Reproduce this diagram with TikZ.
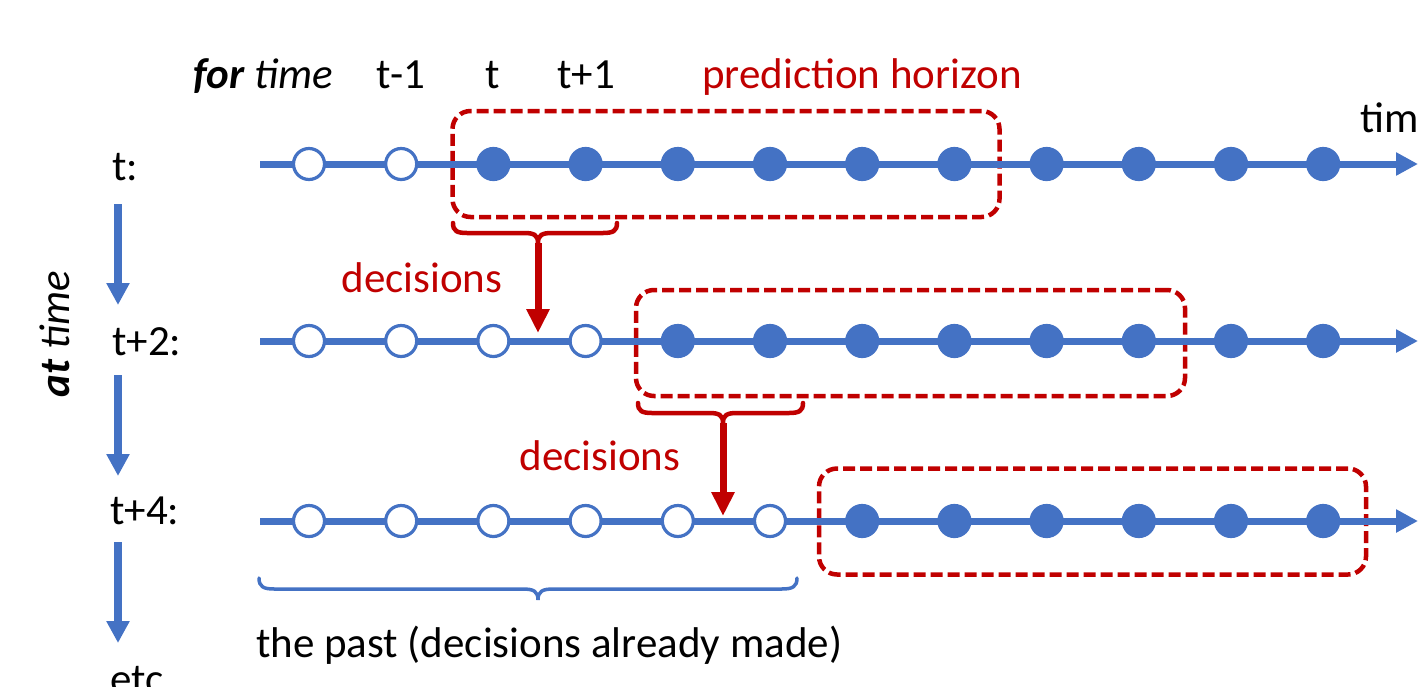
\documentclass[tikz,border=0pt]{standalone}
\usepackage{fontspec}
\setmainfont{Carlito}
\usetikzlibrary{arrows.meta}
\definecolor{axisblue}{HTML}{4472C4}
\definecolor{horizonred}{HTML}{C00000}

% curly brace opening downwards: style, left x, middle x, right x, top y, depth
\newcommand\curlybrace[6]{%
  \draw[#1] (#2,#5) .. controls (#2,#5+0.8*#6) and (#2+0.4*#6,#5+#6) .. (#2+1.4*#6,#5+#6)
    -- (#3-1.4*#6,#5+#6) .. controls (#3-0.4*#6,#5+#6) and (#3,#5+1.2*#6) .. (#3,#5+2*#6)
    .. controls (#3,#5+1.2*#6) and (#3+0.4*#6,#5+#6) .. (#3+1.4*#6,#5+#6)
    -- (#4-1.4*#6,#5+#6) .. controls (#4-0.4*#6,#5+#6) and (#4,#5+0.8*#6) .. (#4,#5);}

\begin{document}
\begin{tikzpicture}[x=1pt,y=-1pt,
  every node/.style={font=\fontsize{43pt}{52pt}\selectfont, inner sep=0pt},
  axis/.style={draw=axisblue, line width=7pt, -{Triangle[length=22pt,width=22pt]}},
  pastpt/.style={circle, draw=axisblue, fill=white, line width=3.2pt, minimum size=31pt},
  futurept/.style={circle, draw=axisblue, fill=axisblue, line width=3.2pt, minimum size=31pt},
  horizon/.style={draw=horizonred, line width=4.5pt, dash pattern=on 12pt off 5pt,
    rounded corners=18pt, rectangle, minimum height=106pt},
  redtext/.style={text=horizonred},
  steparrow/.style={draw=axisblue, line width=8pt, -{Triangle[length=22pt,width=22pt]}},
  decarrow/.style={draw=horizonred, line width=7pt, -{Triangle[length=24pt,width=22pt]}},
  redbrace/.style={draw=horizonred, line width=4.5pt, line cap=round},
  bluebrace/.style={draw=axisblue, line width=3.5pt, line cap=round}]

\useasboundingbox (0,0) rectangle (1418,686);

% header row
\node[anchor=base west] (fortime) at (193,88) {\textbf{\textit{for}} \textit{time}};
\node[anchor=base] (lbl-tm1) at (401,88) {t-1};
\node[anchor=base] (lbl-t) at (493,88) {t};
\node[anchor=base] (lbl-tp1) at (586,88) {t+1};
\node[anchor=base, redtext] (phlabel) at (862,88) {prediction horizon};
\node[anchor=base west] (timelabel) at (1360,132) {time};

% left column: decision instants
\node[anchor=base west] (at0) at (112,180) {t:};
\node[anchor=base west] (at2) at (112,355) {t+2:};
\node[anchor=base west] (at4) at (110,524) {t+4:};
\node[anchor=base west] (atetc) at (110,693) {etc};
\node[rotate=90] (attime) at (55,334) {\textbf{\textit{at}} \textit{time}};

\coordinate (s0a) at (118,204); \coordinate (s0b) at (118,305);
\coordinate (s1a) at (118,375); \coordinate (s1b) at (118,476);
\coordinate (s2a) at (118,542); \coordinate (s2b) at (118,643);
\draw[steparrow] (s0a) -- (s0b);
\draw[steparrow] (s1a) -- (s1b);
\draw[steparrow] (s2a) -- (s2b);

% prediction horizons
\node[horizon, minimum width=547pt] (h1) at (726,164) {};
\node[horizon, minimum width=549pt] (h2) at (910.5,343) {};
\node[horizon, minimum width=547pt] (h3) at (1092.5,521.5) {};

% time axes with sample points
\foreach \row/\y/\npast in {1/164/2, 2/341/4, 3/521/6} {
  \coordinate (ax\row-start) at (260,\y);
  \coordinate (ax\row-end) at (1418,\y);
  \draw[axis] (ax\row-start) -- (ax\row-end);
  \foreach \i in {0,...,11} {
    \pgfmathsetmacro\xx{309+92.2*\i}
    \ifnum\i<\npast
      \node[pastpt] (p\row-\i) at (\xx,\y) {};
    \else
      \node[futurept] (p\row-\i) at (\xx,\y) {};
    \fi
  }
}

% decisions taken from each horizon
\curlybrace{redbrace}{453}{538}{617}{223}{10}
\coordinate (d1a) at (538,243); \coordinate (d1b) at (538,333);
\draw[decarrow] (d1a) -- (d1b);
\node[anchor=base, redtext] (dec1) at (422,292) {decisions};

\curlybrace{redbrace}{638}{723}{803}{403}{10}
\coordinate (d2a) at (723,423); \coordinate (d2b) at (723,516);
\draw[decarrow] (d2a) -- (d2b);
\node[anchor=base, redtext] (dec2) at (600,470) {decisions};

% the past
\curlybrace{bluebrace}{259}{538}{797}{578}{11}
\node[anchor=base west] (past) at (256,657) {the past (decisions already made)};

\end{tikzpicture}
\end{document}
